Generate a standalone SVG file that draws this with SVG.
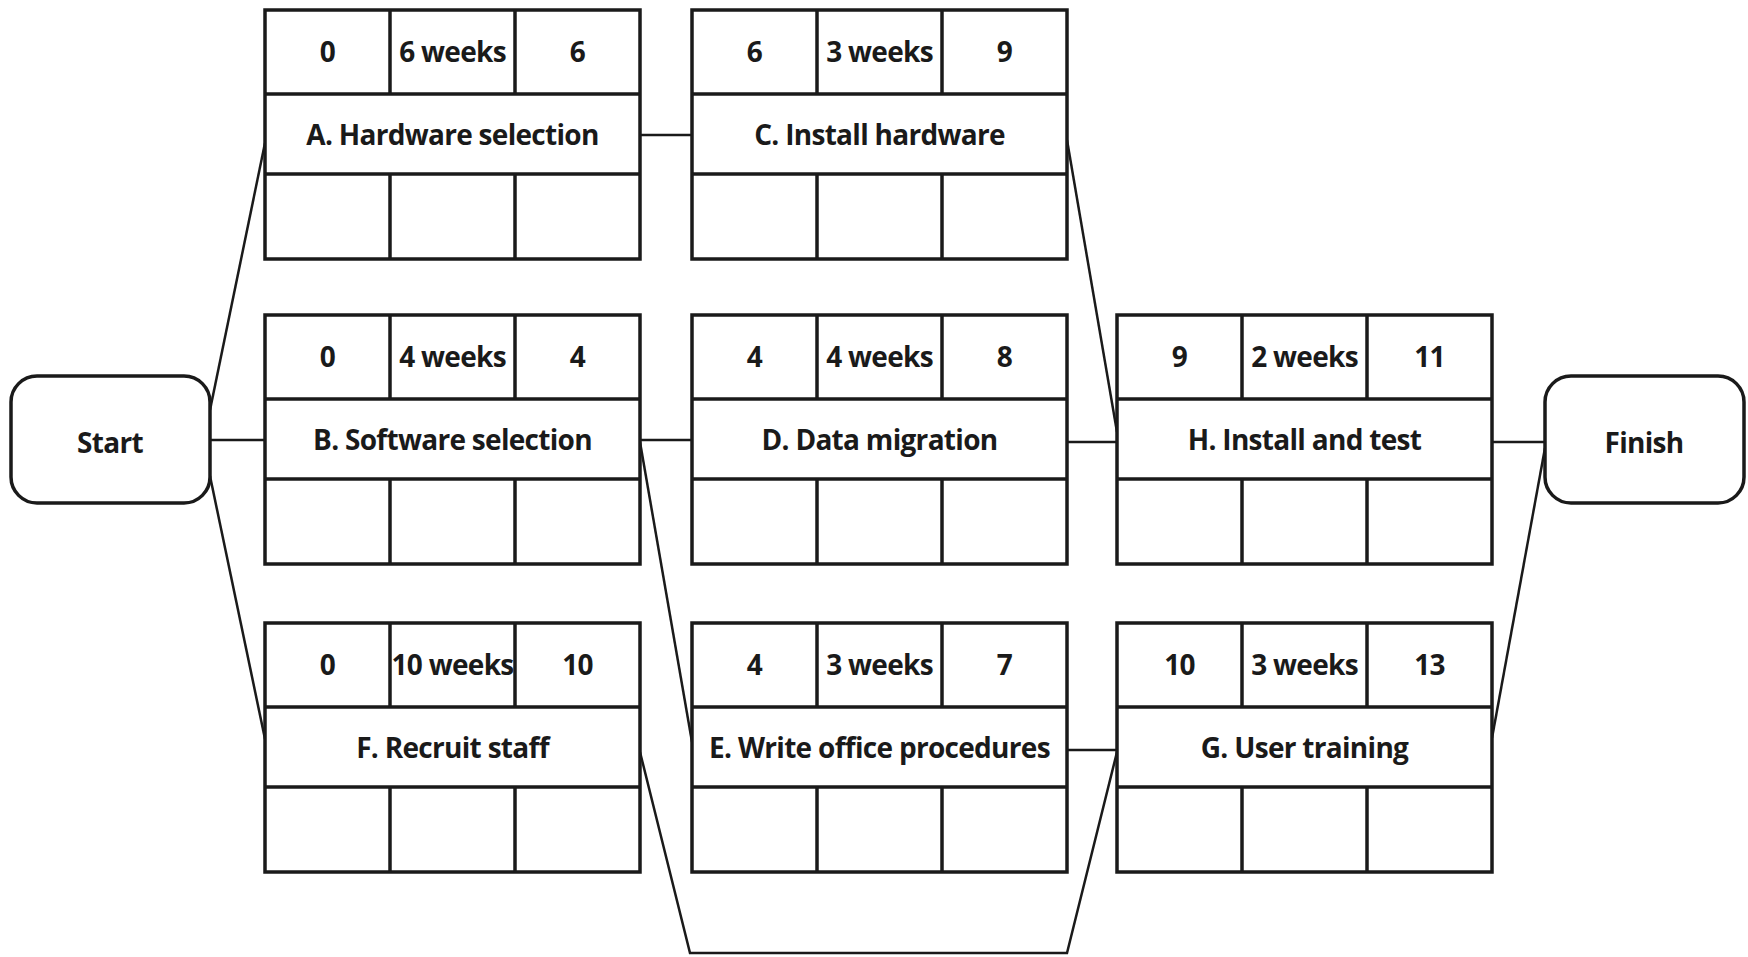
<svg xmlns="http://www.w3.org/2000/svg" xmlns:xlink="http://www.w3.org/1999/xlink" width="1748" height="957" viewBox="0 0 1748 957">
<style>
  .box { fill: #ffffff; stroke: #1a1a1a; stroke-width: 3.5; }
  .div { stroke: #1a1a1a; stroke-width: 3.5; fill: none; }
  .conn { stroke: #1a1a1a; stroke-width: 2.5; fill: none; stroke-linejoin: miter; }
  .t { font-family: "Open Sans", "Noto Sans", "Liberation Sans", sans-serif; font-weight: 700; font-size: 28px; letter-spacing: -0.7px; fill: #1a1a1a; text-anchor: middle; }
  .term { fill: #ffffff; stroke: #1a1a1a; stroke-width: 3.5; }
</style>
<defs>
  <g id="grid">
    <rect class="box" x="0" y="0" width="375" height="249"/>
    <line class="div" x1="0" y1="84" x2="375" y2="84"/>
    <line class="div" x1="0" y1="164" x2="375" y2="164"/>
    <line class="div" x1="125" y1="0" x2="125" y2="84"/>
    <line class="div" x1="250" y1="0" x2="250" y2="84"/>
    <line class="div" x1="125" y1="164" x2="125" y2="249"/>
    <line class="div" x1="250" y1="164" x2="250" y2="249"/>
  </g>
</defs>
<rect width="1748" height="957" fill="#ffffff"/>

<g id="connectors">
  <polyline class="conn" points="210,410 265,143"/>
  <polyline class="conn" points="210,440 265,440"/>
  <polyline class="conn" points="210,476 265,739"/>
  <polyline class="conn" points="640,135 692,135"/>
  <polyline class="conn" points="1067,140 1117,432"/>
  <polyline class="conn" points="640,440 692,440"/>
  <polyline class="conn" points="640,442 692,742"/>
  <polyline class="conn" points="1067,442 1117,442"/>
  <polyline class="conn" points="1492,442 1545,442"/>
  <polyline class="conn" points="640,752 690,953 1067,953 1117,752"/>
  <polyline class="conn" points="1067,750 1117,750"/>
  <polyline class="conn" points="1492,738 1545,448"/>
</g>

<g id="start">
  <rect class="term" x="11" y="376" width="199" height="127" rx="26"/>
  <text class="t" x="110" y="453">Start</text>
</g>
<g id="finish">
  <rect class="term" x="1545" y="376" width="199" height="127" rx="26"/>
  <text class="t" x="1644" y="453">Finish</text>
</g>

<g id="nodeA" transform="translate(265,10)">
  <use xlink:href="#grid"/>
  <text class="t" x="62.5" y="52">0</text>
  <text class="t" x="187.5" y="52">6 weeks</text>
  <text class="t" x="312.5" y="52">6</text>
  <text class="t" x="187.5" y="135">A. Hardware selection</text>
</g>
<g id="nodeC" transform="translate(692,10)">
  <use xlink:href="#grid"/>
  <text class="t" x="62.5" y="52">6</text>
  <text class="t" x="187.5" y="52">3 weeks</text>
  <text class="t" x="312.5" y="52">9</text>
  <text class="t" x="187.5" y="135">C. Install hardware</text>
</g>
<g id="nodeB" transform="translate(265,315)">
  <use xlink:href="#grid"/>
  <text class="t" x="62.5" y="52">0</text>
  <text class="t" x="187.5" y="52">4 weeks</text>
  <text class="t" x="312.5" y="52">4</text>
  <text class="t" x="187.5" y="135">B. Software selection</text>
</g>
<g id="nodeD" transform="translate(692,315)">
  <use xlink:href="#grid"/>
  <text class="t" x="62.5" y="52">4</text>
  <text class="t" x="187.5" y="52">4 weeks</text>
  <text class="t" x="312.5" y="52">8</text>
  <text class="t" x="187.5" y="135">D. Data migration</text>
</g>
<g id="nodeH" transform="translate(1117,315)">
  <use xlink:href="#grid"/>
  <text class="t" x="62.5" y="52">9</text>
  <text class="t" x="187.5" y="52">2 weeks</text>
  <text class="t" x="312.5" y="52">11</text>
  <text class="t" x="187.5" y="135">H. Install and test</text>
</g>
<g id="nodeF" transform="translate(265,623)">
  <use xlink:href="#grid"/>
  <text class="t" x="62.5" y="52">0</text>
  <text class="t" x="187.5" y="52">10 weeks</text>
  <text class="t" x="312.5" y="52">10</text>
  <text class="t" x="187.5" y="135">F. Recruit staff</text>
</g>
<g id="nodeE" transform="translate(692,623)">
  <use xlink:href="#grid"/>
  <text class="t" x="62.5" y="52">4</text>
  <text class="t" x="187.5" y="52">3 weeks</text>
  <text class="t" x="312.5" y="52">7</text>
  <text class="t" x="187.5" y="135">E. Write office procedures</text>
</g>
<g id="nodeG" transform="translate(1117,623)">
  <use xlink:href="#grid"/>
  <text class="t" x="62.5" y="52">10</text>
  <text class="t" x="187.5" y="52">3 weeks</text>
  <text class="t" x="312.5" y="52">13</text>
  <text class="t" x="187.5" y="135">G. User training</text>
</g>
</svg>
